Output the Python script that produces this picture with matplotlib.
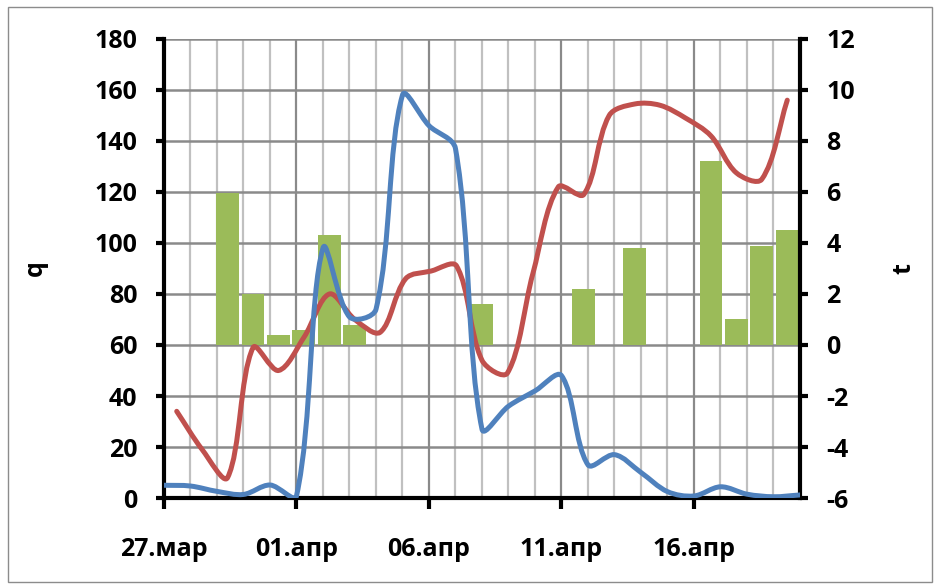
import numpy as np
import matplotlib
matplotlib.use("Agg")
import matplotlib.pyplot as plt
from matplotlib.path import Path
from matplotlib.patches import PathPatch, Rectangle
from matplotlib.ticker import MultipleLocator

plt.rcParams['font.family'] = ['Open Sans', 'DejaVu Sans']
plt.rcParams['font.weight'] = 'bold'
plt.rcParams['axes.unicode_minus'] = False

# days since 27 march (primary date axis, 25 dates)
days = list(range(25))
date_ticks = [0, 5, 10, 15, 20]
date_labels = ['27.мар', '01.апр', '06.апр', '11.апр', '16.апр']

# q (left axis)
q = [5, 4.7, 2.6, 1.4, 5.1, 0.8, 98, 71, 74, 158, 146, 137, 27, 36, 42,
     48, 13, 17, 10, 2.5, 0.8, 4.4, 1.5, 0.5, 1.2]

# t (right axis), 25 categories
t = [-2.6, -4.1, -5.2, -0.1, -1.0, 0.3, 2.0, 1.0, 0.5, 2.6, 2.9, 3.1, -0.6,
     -1.1, 2.8, 6.2, 5.9, 9.0, 9.45, 9.4, 8.9, 8.2, 6.75, 6.5, 9.6]

# bars on the right axis, same 25 categories
bars = [0, 0, 5.95, 2.0, 0.4, 0.6, 4.3, 0.8, 0, 0, 0, 0, 1.6, 0, 0, 0, 2.2,
        0, 3.8, 0, 0, 7.2, 1.0, 3.9, 4.5]


def smooth_path(x, y, trans, f=1 / 3):
    # excel-like smoothed line, control points scaled by segment length
    pts = trans.transform(np.column_stack([x, y]).astype(float))
    n = len(pts)
    verts = [pts[0]]
    codes = [Path.MOVETO]
    for i in range(n - 1):
        p0 = pts[max(i - 1, 0)]
        p1 = pts[i]
        p2 = pts[i + 1]
        p3 = pts[min(i + 2, n - 1)]
        d01 = np.hypot(*(p1 - p0))
        d12 = np.hypot(*(p2 - p1))
        d23 = np.hypot(*(p3 - p2))
        c1 = p1 + (p2 - p0) * f * d12 / max(d01 + d12, 1e-9)
        c2 = p2 - (p3 - p1) * f * d12 / max(d12 + d23, 1e-9)
        verts += [c1, c2, p2]
        codes += [Path.CURVE4] * 3
    verts = trans.inverted().transform(np.array(verts))
    return Path(verts, codes)


fig = plt.figure(figsize=(9.35, 5.87), dpi=100)
ax = fig.add_axes([0.1754, 0.1516, 0.6802, 0.782])
ax2 = ax.twinx()

ncat = len(t)
span = len(days) - 1
cat_x = [(i + 0.5) * span / ncat for i in range(ncat)]

ax.set_xlim(0, span)
ax.set_ylim(0, 180)
ax2.set_ylim(-6, 12)

# gridlines
ax.xaxis.set_major_locator(MultipleLocator(5))
ax.xaxis.set_minor_locator(MultipleLocator(1))
ax.yaxis.set_major_locator(MultipleLocator(20))
ax2.yaxis.set_major_locator(MultipleLocator(2))
ax.grid(True, which='minor', axis='x', color='#c0c0c0', lw=1.6)
ax.grid(True, which='major', axis='x', color='#8a8a8a', lw=1.6)
ax.grid(True, which='major', axis='y', color='#8a8a8a', lw=1.8)
ax.set_axisbelow(True)

ax.set_xticks(date_ticks)
ax.set_xticklabels(date_labels)

# bars
ax2.bar(cat_x, bars, width=0.9 * span / ncat, bottom=0, color='#9bbb59',
        zorder=1)

# lines
ax2.add_patch(PathPatch(smooth_path(cat_x, t, ax2.transData), fill=False,
                        edgecolor='#c0504d', lw=3.6, zorder=2,
                        capstyle='round', joinstyle='round'))
ax2.add_patch(PathPatch(smooth_path(days, q, ax.transData), fill=False,
                        edgecolor='#4f81bd', lw=3.6, zorder=3,
                        transform=ax.transData,
                        capstyle='round', joinstyle='round'))

for a in (ax, ax2):
    a.spines['top'].set_visible(False)
    for s in ('left', 'right', 'bottom'):
        a.spines[s].set_linewidth(3)
        a.spines[s].set_color('black')
ax2.spines['left'].set_visible(False)
ax2.spines['bottom'].set_visible(False)
ax.spines['right'].set_visible(False)

ax.tick_params(axis='y', which='major', length=6, width=3, pad=13,
               labelsize=18)
ax2.tick_params(axis='y', which='major', length=6, width=3, pad=13,
                labelsize=18)
ax.tick_params(axis='x', which='major', length=8, width=3, pad=20,
               labelsize=18)
ax.tick_params(axis='x', which='minor', length=0)

ax.set_ylabel('q', fontsize=18, fontweight='bold', labelpad=34)
ax2.set_ylabel('t', fontsize=18, fontweight='bold', rotation=90, labelpad=26)

fig.patches.append(Rectangle((0.009, 0.008), 0.988, 0.98, fill=False,
                             edgecolor='#8c8c8c', lw=1,
                             transform=fig.transFigure))

fig.savefig('out.png', dpi=100)
